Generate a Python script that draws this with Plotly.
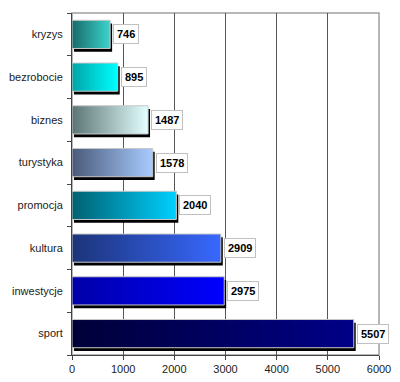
import plotly.graph_objects as go

categories = ["kryzys", "bezrobocie", "biznes", "turystyka", "promocja", "kultura", "inwestycje", "sport"]
values = [746, 895, 1487, 1578, 2040, 2909, 2975, 5507]
left_colors = ["#176a6a", "#00a4a8", "#5c7474", "#4a5a7a", "#006070", "#1c3478", "#0000a8", "#000038"]
right_colors = ["#3cd4cc", "#00ffff", "#e4ffff", "#a8ccff", "#00d0ff", "#3868ff", "#0000ff", "#000088"]
x_ticks = [0, 1000, 2000, 3000, 4000, 5000, 6000]

n = len(categories)
ypos = [n - 1 - i for i in range(n)]
half = 0.33
sx, sy = 38, 0.075
FONT = "Arial, Liberation Sans, sans-serif"

fig = go.Figure()
for cat, v, y, c0, c1 in zip(categories, values, ypos, left_colors, right_colors):
    # shadow
    fig.add_trace(go.Scatter(
        x=[sx, v + sx, v + sx, sx, sx],
        y=[y - half - sy, y - half - sy, y + half - sy, y + half - sy, y - half - sy],
        fill="toself", fillcolor="#000000", line=dict(width=0), mode="lines",
        hoverinfo="skip", showlegend=False))
    # bar
    fig.add_trace(go.Scatter(
        x=[0, v, v, 0, 0],
        y=[y - half, y - half, y + half, y + half, y - half],
        fill="toself", mode="lines", line=dict(color="#c8c8c8", width=1),
        fillgradient=dict(type="horizontal", colorscale=[[0, c0], [1, c1]]),
        name=cat, showlegend=False))
    fig.add_annotation(x=v, y=y, text=f"<b>{v}</b>", showarrow=False,
                       xanchor="left", xshift=3, yshift=0,
                       font=dict(family=FONT, size=11, color="#000"),
                       bgcolor="#ffffff", bordercolor="#c0c0c0", borderwidth=1, borderpad=3)

# plot border (light)
fig.add_shape(type="rect", xref="paper", yref="paper", x0=0, y0=0, x1=1, y1=1,
              line=dict(color="#a0a0a0", width=1.5), layer="below")

fig.update_layout(
    width=392, height=366,
    margin=dict(l=64, r=21, t=5, b=19),
    paper_bgcolor="white", plot_bgcolor="white",
    font=dict(family=FONT, size=11, color="#222"),
    xaxis=dict(range=[0, 6000], tickvals=x_ticks, showgrid=True, gridcolor="#555555", gridwidth=1,
               zeroline=False, showline=True, linecolor="#444", linewidth=1, automargin=False,
               ticks="outside", ticklen=4, tickcolor="#444", tickfont=dict(size=11, color="#222"),
               fixedrange=True),
    yaxis=dict(range=[-0.5, n - 0.5], tickvals=ypos, ticktext=categories, showgrid=False,
               zeroline=False, showline=True, linecolor="#444", linewidth=1, automargin=False,
               ticks="", ticklabelstandoff=6, tickfont=dict(size=11, color="#222"),
               minor=dict(tickvals=[k + 0.5 for k in range(-1, n)], ticks="outside", ticklen=4,
                          tickcolor="#444"),
               fixedrange=True),
)

fig.write_html("out.html")
